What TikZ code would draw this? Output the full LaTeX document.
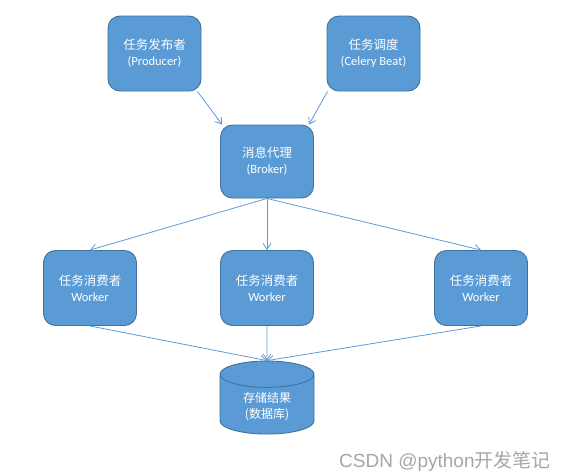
\documentclass[tikz,border=0pt]{standalone}
\usepackage{fontspec}
\setmainfont{Carlito}
\newfontfamily\cjk{Noto Sans CJK SC}
\newfontfamily\wmfont{Liberation Sans}
\usetikzlibrary{arrows.meta,shapes.geometric}
\definecolor{boxfill}{HTML}{5B9BD5}
\definecolor{boxline}{HTML}{41719C}
\definecolor{wmgray}{HTML}{A6A6A6}
\begin{document}
\begin{tikzpicture}[x=1pt,y=-1pt,>={Straight Barb[length=6pt,width=8pt]},
		box/.style={draw=boxline,line width=0.9pt,fill=boxfill,rounded corners=12pt,minimum width=93pt,minimum height=75pt,inner sep=0pt,text=white,align=center,font=\fontsize{12.5}{16}\selectfont},
		store/.style={cylinder,shape border rotate=90,aspect=0.47,draw=boxline,line width=0.9pt,fill=boxfill,minimum width=94pt,minimum height=73pt,inner sep=4pt,text=white,align=center,font=\cjk\fontsize{12}{16}\selectfont},
		link/.style={->,draw=boxfill,line width=0.8pt}]
				\useasboundingbox (0,0) rectangle (564,475);
				\node[box] (prod) at (154.5,53.5) {{\cjk 任务发布者}\\(Producer)};
				\node[box] (beat) at (373.5,53.5) {{\cjk 任务调度}\\(Celery Beat)};
				\node[box,minimum height=73pt] (broker) at (267,161.5) {{\cjk 消息代理}\\(Broker)};
				\node[box] (wl) at (90,288) {{\cjk 任务消费者}\\Worker};
				\node[box] (wm) at (267,288) {{\cjk 任务消费者}\\Worker};
				\node[box] (wr) at (481,288) {{\cjk 任务消费者}\\Worker};
				\node[store] (db) at (267,407) {存储结果\\(数据库)};
				\node[anchor=base west,inner sep=0pt,text=wmgray,font=\wmfont\fontsize{19}{19}\selectfont] (mark) at (339,467) {CSDN @python{\cjk 开发笔记}};
				\draw[link] ([xshift=-4pt]prod.south east) -- ([xshift=2pt]broker.north west);
				\draw[link] ([xshift=1pt]beat.south west) -- ([xshift=-5pt]broker.north east);
				\foreach \w in {wl,wm,wr} \draw[link] (broker.south) -- (\w.north);
				\foreach \w in {wl,wm,wr} \draw[link] (\w.south) -- (db.north);
			\end{tikzpicture}
\end{document}
